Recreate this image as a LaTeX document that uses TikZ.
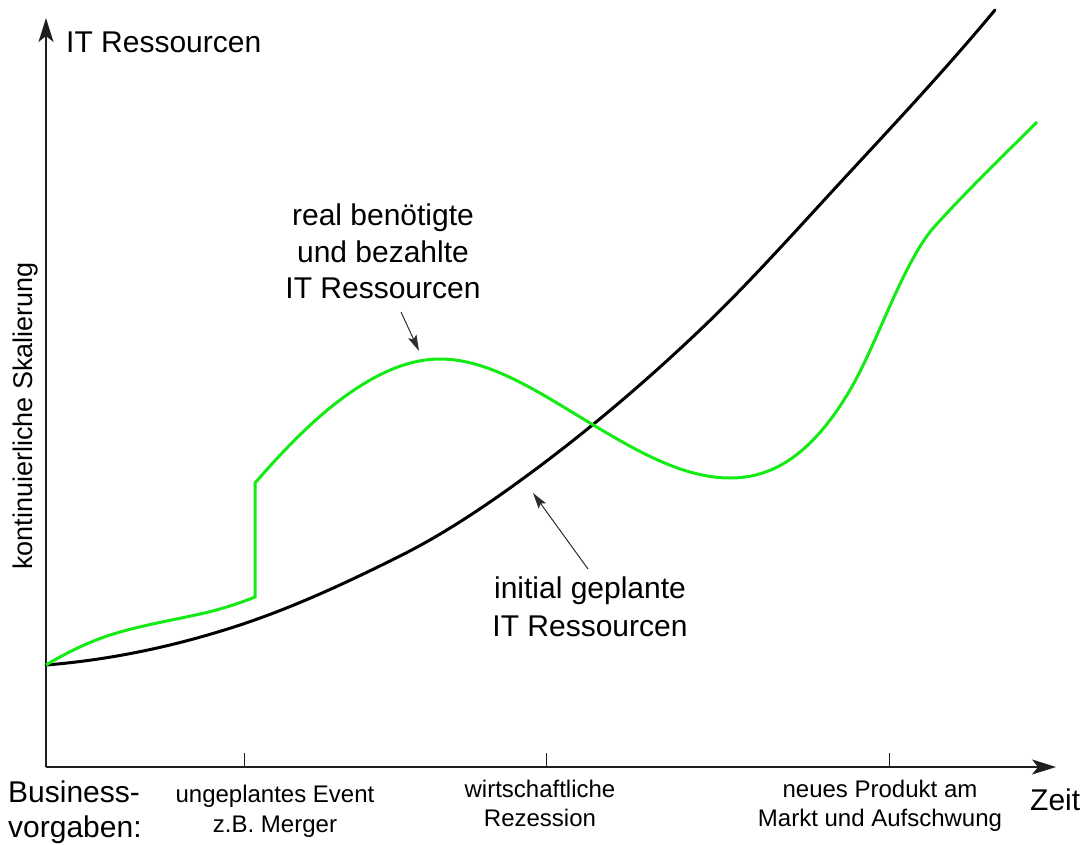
\documentclass[tikz,border=0pt]{standalone}
\usepackage{fontspec}
\setmainfont{Liberation Sans}
\usetikzlibrary{arrows.meta}
\definecolor{realgreen}{RGB}{20,235,20}
\definecolor{axisgray}{RGB}{30,30,30}
\definecolor{pointergray}{RGB}{45,45,45}

\begin{document}
\begin{tikzpicture}[x=1pt,y=-1pt,
  axis/.style={line width=1.5pt, draw=axisgray, -{Stealth[length=24pt,width=15pt,inset=6pt]}},
  tickmark/.style={line width=1pt, draw=axisgray},
  planned/.style={line width=3pt, draw=black, line cap=round},
  actual/.style={line width=3pt, draw=realgreen, line join=miter},
  pointer/.style={line width=1pt, draw=pointergray, -{Stealth[length=16pt,width=9pt,inset=3pt]}},
  big/.style={font=\fontsize{30}{36}\selectfont, inner sep=0pt, anchor=base},
  small/.style={font=\fontsize{24}{29}\selectfont, inner sep=0pt, anchor=base},
]
\useasboundingbox (0,0) rectangle (1085,844);

% axes
\coordinate (O) at (46,767);
\coordinate (ytip) at (46,18);
\coordinate (xtip) at (1056,767);
\draw[axis] (O) -- (ytip);
\draw[axis] (O) -- (xtip);

% ticks for the business events
\coordinate (t1) at (244,767);
\coordinate (t2) at (546,767);
\coordinate (t3) at (889,767);
\foreach \t in {t1,t2,t3}
  \draw[tickmark] (\t) -- ++(0,-14);

% axis labels
\node[big, anchor=base west] (ylab) at (66,52) {IT Ressourcen};
\node[big, anchor=base west] (xlab) at (1030,810) {Zeit};
\node[font=\fontsize{27}{32}\selectfont, inner sep=0pt, rotate=90, anchor=base] (scale) at (32,416) {kontinuierliche Skalierung};

% planned resources: a convex growth curve
\draw[planned] (46,665)
  .. controls +(64.7,-5.2) and +(-64.7,21.3) .. (240,625)
  .. controls +(53.3,-17.6) and +(-53.3,26.7) .. (400,556)
  .. controls +(46.7,-23.3) and +(-46.7,35) .. (540,466)
  .. controls +(53.3,-40) and +(-53.3,50.7) .. (700,330)
  .. controls +(50,-47.5) and +(-50,54) .. (850,172)
  .. controls +(48.3,-52.2) and +(-48.3,58) .. (995,10);

% actually required resources, with the jump at the unplanned event
\draw[actual] (46,665)
  .. controls +(24.7,-14.8) and +(-24.7,6.9) .. (120,632)
  .. controls +(26.7,-7.5) and +(-26.7,5.9) .. (200,614)
  .. controls +(18.3,-4) and +(-18.3,7.3) .. (255,597)
  -- (255,483)
  .. controls +(28.3,-32.6) and +(-28.3,21.3) .. (340,400)
  .. controls +(33.3,-25) and +(-33.3,0) .. (440,359)
  .. controls +(50,0) and +(-50,-30) .. (590,423)
  .. controls +(46.7,28) and +(-46.7,0) .. (730,478)
  .. controls +(40,0) and +(-40,68) .. (850,390)
  .. controls +(16.7,-28.3) and +(-16.7,35) .. (900,284)
  .. controls +(11.7,-24.5) and +(-11.7,12.8) .. (935,226)
  .. controls +(34,-37.4) and +(-34,34) .. (1037,122);

% curve labels
\node[big] (r1) at (383,225) {real benötigte};
\node[big] (r2) at (383,262) {und bezahlte};
\node[big] (r3) at (383,298) {IT Ressourcen};
\node[big] (i1) at (590,598) {initial geplante};
\node[big] (i2) at (590,636) {IT Ressourcen};

\coordinate (r3foot) at (401,312);
\coordinate (greenpeak) at (419,351);
\draw[pointer] (r3foot) -- (greenpeak);
\coordinate (i1top) at (588,569);
\coordinate (blackpoint) at (533,493);
\draw[pointer] (i1top) -- (blackpoint);

% business events
\node[big, anchor=base west] (b1) at (8,802) {Business-};
\node[big, anchor=base west] (b2) at (8,837) {vorgaben:};
\node[small] (e1a) at (275,802) {ungeplantes Event};
\node[small] (e1b) at (275,832) {z.B. Merger};
\node[small] (e2a) at (540,797) {wirtschaftliche};
\node[small] (e2b) at (540,826) {Rezession};
\node[small] (e3a) at (880,797) {neues Produkt am};
\node[small] (e3b) at (880,826) {Markt und Aufschwung};
\end{tikzpicture}
\end{document}
